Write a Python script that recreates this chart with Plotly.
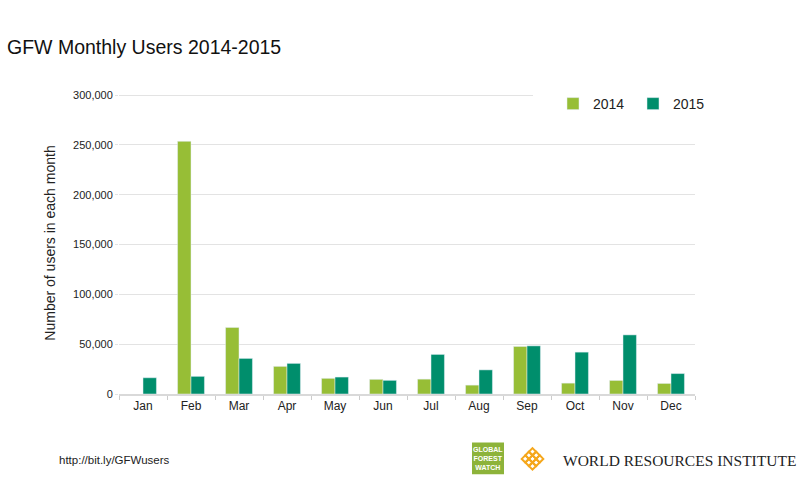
import plotly.graph_objects as go

months = ["Jan", "Feb", "Mar", "Apr", "May", "Jun", "Jul", "Aug", "Sep", "Oct", "Nov", "Dec"]
users_2014 = [None, 253500, 66800, 27700, 15700, 14700, 14900, 8900, 47700, 10900, 13600, 10600]
users_2015 = [16300, 17700, 35700, 30700, 17000, 13700, 39700, 24200, 48300, 42000, 59300, 20500]
y_ticks = [0, 50000, 100000, 150000, 200000, 250000, 300000]

FONT = "Liberation Sans, Arial, sans-serif"
C2014 = "#97BE36"
C2015 = "#008E6C"

W, H = 801, 498
Y0, Y300 = 394.5, 95.0           # pixel rows of 0 and 300,000
L, R, T = 119, 106, 92
B = H - Y0
PW, PH = W - L - R, Y0 - T
YMAX = 300000 * PH / (Y0 - Y300)


def px(x):
    return (x - L) / PW


def py(y):
    return (Y0 - y) / PH


fig = go.Figure()
fig.add_trace(go.Bar(name="2014", x=months, y=users_2014, marker_color=C2014))
fig.add_trace(go.Bar(name="2015", x=months, y=users_2015, marker_color=C2015))

shapes = []
# white patch behind the legend hiding the top gridline
shapes.append(dict(type="rect", xref="paper", yref="paper",
                   x0=px(533), x1=1.0, y0=py(102), y1=py(89),
                   fillcolor="white", line_width=0, layer="above"))
# GFW logo box
shapes.append(dict(type="rect", xref="paper", yref="paper",
                   x0=px(472), x1=px(504), y0=py(475), y1=py(443),
                   fillcolor="#8DB33A", line_width=0, layer="above"))
# WRI lattice logo
cx, cy, d = 532.5, 459.5, 3.6
for i in range(3):
    for j in range(3):
        ox = cx + (i - j) * d
        oy = cy + (i + j - 2) * d
        pts = [(ox, oy - d), (ox + d, oy), (ox, oy + d), (ox - d, oy)]
        path = "M " + " L ".join(f"{px(a):.5f},{py(b):.5f}" for a, b in pts) + " Z"
        shapes.append(dict(type="path", xref="paper", yref="paper", path=path,
                           line=dict(color="#F5A71C", width=2), layer="above"))

annotations = [
    dict(text="http://bit.ly/GFWusers", xref="paper", yref="paper",
         x=px(57), y=py(461), xanchor="left", yanchor="middle", showarrow=False,
         font=dict(family=FONT, size=11.5, color="#222")),
    dict(text="<b>GLOBAL<br>FOREST<br>WATCH</b>", xref="paper", yref="paper",
         x=px(488), y=py(459), xanchor="center", yanchor="middle", showarrow=False,
         font=dict(family=FONT, size=7, color="white")),
    dict(text="WORLD RESOURCES INSTITUTE", xref="paper", yref="paper",
         x=px(561), y=py(461), xanchor="left", yanchor="middle", showarrow=False,
         font=dict(family="Liberation Serif, DejaVu Serif, serif", size=15.5, color="#222")),
]

fig.update_layout(
    width=W, height=H,
    margin=dict(l=L, r=R, t=T, b=B, autoexpand=False),
    paper_bgcolor="white", plot_bgcolor="white",
    font=dict(family=FONT, color="#222"),
    title=dict(text="GFW Monthly Users 2014-2015", xref="container", yref="container",
               x=7 / W, y=1 - 47 / H, xanchor="left", yanchor="middle",
               font=dict(family=FONT, size=19.5, color="#111")),
    barmode="group", bargap=0.44, bargroupgap=0,
    legend=dict(orientation="h", x=px(553), y=py(88), xanchor="left", yanchor="top",
                bgcolor="rgba(0,0,0,0)", font=dict(family=FONT, size=14, color="#222"),
                entrywidth=35, entrywidthmode="pixels", traceorder="normal"),
    xaxis=dict(showline=True, linecolor="#d9d9d9", linewidth=1.5,
               ticks="outside", tickson="boundaries", ticklen=4, tickcolor="#cccccc",
               tickfont=dict(family=FONT, size=12, color="#222"), showgrid=False),
    yaxis=dict(range=[0, YMAX], tickvals=y_ticks, tickformat=",",
               showgrid=True, gridcolor="#e3e3e3", gridwidth=1.2, zeroline=False,
               ticks="outside", ticklen=3, tickcolor="#e3e3e3",
               tickfont=dict(family=FONT, size=11, color="#222"),
               title=dict(text="Number of users in each month", standoff=14,
                          font=dict(family=FONT, size=14, color="#222"))),
    shapes=shapes,
    annotations=annotations,
)

fig.write_html("out.html", config={"displayModeBar": False},
               post_script="document.body.style.margin='0';")
